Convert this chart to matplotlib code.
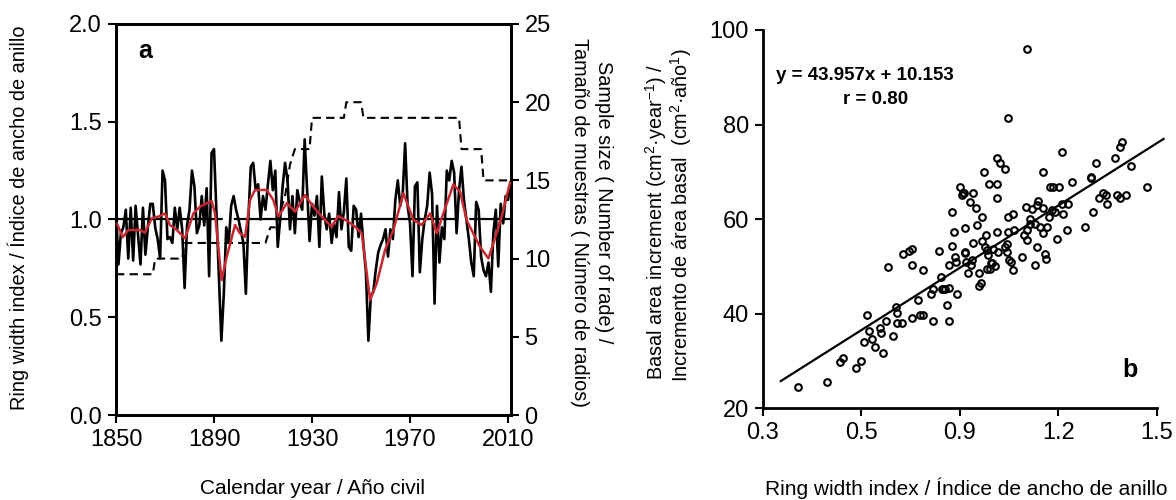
import matplotlib
matplotlib.use('Agg')
import matplotlib.pyplot as plt
import numpy as np

plt.rcParams['font.family'] = ['Liberation Sans', 'DejaVu Sans']
plt.rcParams['mathtext.fontset'] = 'custom'
plt.rcParams['mathtext.rm'] = 'Liberation Sans'
plt.rcParams['mathtext.it'] = 'Liberation Sans:italic'
plt.rcParams['mathtext.bf'] = 'Liberation Sans:bold'

# ---- panel a: ring width index chronology ----
years = np.arange(1850, 2012)
rwi = [
    1.06, 0.77, 0.93, 0.96, 1.05, 0.80, 1.06, 0.79, 1.07, 0.92,   # 1850s
    0.77, 1.06, 0.82, 0.96, 1.08, 1.08, 0.96, 0.90, 0.80, 1.25,   # 1860s
    1.20, 0.90, 0.91, 0.88, 1.06, 0.95, 1.06, 0.95, 0.65, 0.97,   # 1870s
    1.05, 1.25, 1.17, 0.93, 0.97, 1.12, 0.97, 1.16, 0.71, 1.34,   # 1880s
    1.36, 1.03, 0.70, 0.38, 0.62, 0.96, 0.88, 1.07, 1.12, 1.05,   # 1890s
    1.00, 0.94, 0.88, 0.62, 1.00, 1.27, 1.29, 1.15, 1.18, 1.00,   # 1900s
    1.12, 1.05, 1.18, 1.30, 1.15, 1.25, 0.86, 1.00, 1.17, 1.29,   # 1910s
    1.20, 0.95, 1.12, 0.93, 1.15, 1.09, 1.05, 1.41, 1.15, 0.89,   # 1920s
    1.08, 1.02, 1.12, 0.86, 1.22, 1.03, 0.95, 1.03, 0.88, 0.98,   # 1930s
    0.91, 1.14, 0.95, 1.04, 1.21, 0.86, 0.84, 1.07, 1.05, 0.91,   # 1940s
    1.03, 0.87, 0.73, 0.38, 0.61, 0.63, 0.74, 0.83, 0.87, 0.90,   # 1950s
    0.95, 0.81, 0.95, 0.90, 1.10, 1.20, 1.07, 1.13, 1.39, 1.07,   # 1960s
    0.98, 0.71, 1.17, 1.19, 0.73, 0.90, 1.00, 1.07, 1.24, 1.13,   # 1970s
    0.57, 1.07, 0.78, 0.96, 0.90, 1.25, 1.20, 1.30, 1.24, 0.93,   # 1980s
    1.15, 1.27, 1.10, 1.00, 0.90, 0.78, 0.71, 1.09, 1.05, 0.81,   # 1990s
    0.74, 0.71, 0.78, 0.63, 0.93, 1.05, 0.76, 1.08, 0.98, 1.12,   # 2000s
    1.10, 1.19,
]

# smoothed curve (red), read at irregular years
smooth_years = [1850.5, 1852.7, 1855, 1859.8, 1861.8, 1864.6, 1867.3, 1870, 1872,
                1874.8, 1878.2, 1881.6, 1884.3, 1887, 1889, 1890.4, 1893.1, 1895.2,
                1898.6, 1900.6, 1902.7, 1904.7, 1906.7, 1911.5, 1914.2, 1916.3,
                1919.7, 1923.1, 1927.1, 1930.5, 1934.6, 1938, 1940.7, 1944.8,
                1947.6, 1950.3, 1953.7, 1956.4, 1959.8, 1963.2, 1967.3, 1969.3,
                1971.4, 1974.8, 1978.2, 1980.9, 1983.6, 1987.7, 1990.4, 1993.1,
                1998.5, 2002, 2004, 2007.4, 2010.8]
smooth_rwi = [0.977, 0.909, 0.946, 0.946, 0.933, 1.006, 1.015, 1.031, 0.972,
              0.946, 0.904, 1.031, 1.066, 1.083, 1.095, 1.031, 0.69, 0.81,
              0.972, 0.929, 0.912, 1.10, 1.151, 1.151, 1.10, 1.015,
              1.083, 1.04, 1.125, 1.066, 1.006, 0.963, 1.018, 0.989,
              0.963, 0.929, 0.588, 0.673, 0.844, 0.946, 1.134, 1.066,
              0.997, 0.972, 1.031, 0.929, 1.031, 1.18, 1.142, 0.997,
              0.861, 0.801, 0.878, 1.015, 1.188]

# sample size (number of radii), vertices of the dashed line
sample_years = [1850, 1865, 1866, 1877, 1878, 1911, 1913, 1915, 1917, 1919, 1921,
                1923, 1929, 1930, 1943, 1944, 1950, 1951, 1990, 1991, 1999, 2000, 2011]
sample_n = [9, 9, 10, 10, 11, 11, 12, 12, 13, 14, 16,
            17, 17, 19, 19, 20, 20, 19, 19, 17, 17, 15, 15]

# ---- panel b: BAI vs RWI ----
rwi_x = [0.407, 0.495, 0.535, 0.543, 0.584, 0.600, 0.608, 0.616, 0.625, 0.634,
         0.642, 0.657, 0.659, 0.665, 0.674, 0.682, 0.698, 0.706, 0.708, 0.708,
         0.723, 0.728, 0.746, 0.754, 0.755, 0.755, 0.772, 0.779, 0.787, 0.789,
         0.811, 0.819, 0.819, 0.836, 0.844, 0.846, 0.850, 0.855, 0.862, 0.868,
         0.868, 0.868, 0.876, 0.876, 0.883, 0.885, 0.888, 0.892, 0.901, 0.907,
         0.909, 0.913, 0.917, 0.917, 0.917, 0.919, 0.926, 0.931, 0.933, 0.936,
         0.939, 0.941, 0.949, 0.951, 0.957, 0.957, 0.963, 0.966, 0.966, 0.972,
         0.976, 0.980, 0.982, 0.984, 0.987, 0.990, 0.992, 0.994, 0.997, 1.000,
         1.007, 1.014, 1.014, 1.014, 1.014, 1.017, 1.022, 1.036, 1.036, 1.043,
         1.045, 1.048, 1.048, 1.048, 1.051, 1.055, 1.061, 1.063, 1.065, 1.088,
         1.095, 1.101, 1.103, 1.103, 1.105, 1.112, 1.114, 1.119, 1.129, 1.130,
         1.134, 1.136, 1.139, 1.144, 1.152, 1.152, 1.154, 1.159, 1.162, 1.164,
         1.170, 1.174, 1.180, 1.185, 1.190, 1.195, 1.203, 1.210, 1.210, 1.215,
         1.225, 1.230, 1.240, 1.281, 1.298, 1.298, 1.306, 1.314, 1.322, 1.337,
         1.345, 1.347, 1.372, 1.377, 1.387, 1.387, 1.395, 1.405, 1.420, 1.469]
bai_y = [24.4, 25.6, 29.7, 30.6, 28.5, 30.1, 34.0, 39.7, 36.3, 34.6,
         32.9, 36.9, 35.9, 31.8, 38.5, 49.8, 35.2, 41.4, 40.1, 38.0,
         38.0, 52.6, 53.3, 53.7, 50.4, 39.0, 43.0, 39.7, 39.7, 49.2,
         44.2, 38.5, 45.2, 53.3, 47.7, 45.2, 45.2, 45.2, 41.8, 45.4,
         38.5, 50.3, 54.4, 61.6, 57.2, 52.1, 51.0, 44.2, 66.7, 65.1,
         65.6, 65.6, 58.2, 53.1, 52.8, 51.0, 48.7, 63.7, 50.3, 51.4,
         54.9, 65.6, 62.3, 58.8, 45.9, 48.7, 46.4, 60.5, 55.4, 70.0,
         54.2, 56.6, 53.5, 49.4, 52.4, 67.4, 49.4, 50.8, 50.7, 53.6,
         50.0, 73.0, 67.4, 64.5, 57.2, 53.1, 71.8, 70.7, 54.2, 53.1,
         54.7, 60.4, 57.2, 81.3, 51.4, 51.0, 61.1, 49.2, 57.7, 52.1,
         56.6, 62.6, 57.7, 96.0, 55.6, 60.0, 59.0, 62.1, 50.3, 59.0,
         63.0, 54.2, 63.8, 58.4, 70.0, 62.3, 57.1, 52.6, 51.5, 58.4,
         60.5, 66.7, 61.9, 66.7, 61.6, 55.9, 66.7, 74.1, 63.2, 61.1,
         57.7, 63.3, 67.9, 58.3, 69.0, 68.6, 61.6, 71.8, 64.4, 65.6,
         65.1, 63.3, 72.9, 65.1, 75.3, 64.4, 76.4, 65.1, 71.2, 66.7]
slope, intercept = 43.957, 10.153
fit_range = [0.355, 1.52]
x_ticks_b = [0.3, 0.6, 0.9, 1.2, 1.5]
x_ticklabels_b = ['0.3', '0.5', '0.9', '1.2', '1.5']

RED = '#c62a30'
TICK_FS = 17
XLAB_FS = 15
YLAB_FS = 14.3

fig = plt.figure(figsize=(11.76, 5.0), dpi=100)

# panel a
ax1 = fig.add_axes([116 / 1176, 85 / 500, 394.5 / 1176, 391 / 500])
ax1r = ax1.twinx()
ax1.axhline(1.0, color='black', lw=1.6, dashes=(48, 5), zorder=1)
ax1r.plot(sample_years, sample_n, color='black', lw=1.5, dashes=(4, 2.5))
ax1r.set_zorder(ax1.get_zorder() - 1)
ax1.patch.set_visible(False)
ax1.plot(years, rwi, color='black', lw=1.9, zorder=2)
ax1.plot(smooth_years, smooth_rwi, color=RED, lw=1.8, zorder=3)

ax1.set_xlim(1850, 2011)
ax1.set_ylim(0, 2)
ax1r.set_ylim(0, 25)
ax1.set_xticks([1850, 1890, 1930, 1970, 2010])
ax1.set_yticks([0, 0.5, 1.0, 1.5, 2.0])
ax1.set_yticklabels(['0.0', '0.5', '1.0', '1.5', '2.0'])
ax1r.set_yticks([0, 5, 10, 15, 20, 25])
for a in (ax1, ax1r):
    a.tick_params(direction='out', length=6, width=1.5, labelsize=TICK_FS, pad=4)
    for s in a.spines.values():
        s.set_linewidth(2)
ax1.text(0.0735, 0.93, 'a', transform=ax1.transAxes, fontsize=18,
         fontweight='bold', ha='center', va='center')

fig.text(313 / 1176, 1 - 488 / 500, 'Calendar year / Año civil',
         fontsize=XLAB_FS, ha='center', va='center')
fig.text(18 / 1176, 1 - 218 / 500, 'Ring width index / Índice de ancho de anillo',
         fontsize=YLAB_FS, ha='center', va='center', rotation=90)
fig.text(603 / 1176, 1 - 202 / 500, 'Sample size ( Number of rade) /',
         fontsize=YLAB_FS, ha='center', va='center', rotation=270)
fig.text(580 / 1176, 1 - 222 / 500, 'Tamaño de muestras ( Número de radios)',
         fontsize=YLAB_FS, ha='center', va='center', rotation=270)

# panel b
ax2 = fig.add_axes([762.7 / 1176, 91.7 / 500, 394.3 / 1176, 378.3 / 500])
ax2.plot(rwi_x, bai_y, 'o', mfc='none', mec='black', ms=4.8, mew=1.5)
fx = np.array(fit_range)
ax2.plot(fx, slope * fx + intercept, color='black', lw=1.6, clip_on=False)
ax2.set_xlim(0.3, 1.5)
ax2.set_ylim(20, 100)
ax2.set_xticks(x_ticks_b)
ax2.set_xticklabels(x_ticklabels_b)
ax2.set_yticks([20, 40, 60, 80, 100])
ax2.spines['top'].set_visible(False)
ax2.spines['right'].set_visible(False)
for s in ax2.spines.values():
    s.set_linewidth(2)
ax2.tick_params(direction='out', length=6, width=1.5, labelsize=TICK_FS, pad=4)
ax2.text(0.259, 0.881, 'y = 43.957x + 10.153', transform=ax2.transAxes,
         fontsize=13.5, fontweight='bold', ha='center', va='center')
ax2.text(0.285, 0.815, 'r = 0.80', transform=ax2.transAxes,
         fontsize=13.5, fontweight='bold', ha='center', va='center')
ax2.text(0.932, 0.101, 'b', transform=ax2.transAxes, fontsize=18,
         fontweight='bold', ha='center', va='center')

fig.text(966 / 1176, 1 - 488 / 500, 'Ring width index / Índice de ancho de anillo',
         fontsize=XLAB_FS, ha='center', va='center')
fig.text(656 / 1176, 1 - 222 / 500, r'Basal area increment (cm$^{2}$·year$^{-1}$) /',
         fontsize=YLAB_FS, ha='center', va='center', rotation=90)
fig.text(681 / 1176, 1 - 215 / 500, r'Incremento de área basal  (cm$^{2}$·año$^{1}$)',
         fontsize=YLAB_FS, ha='center', va='center', rotation=90)

fig.savefig('out.png', dpi=100)
